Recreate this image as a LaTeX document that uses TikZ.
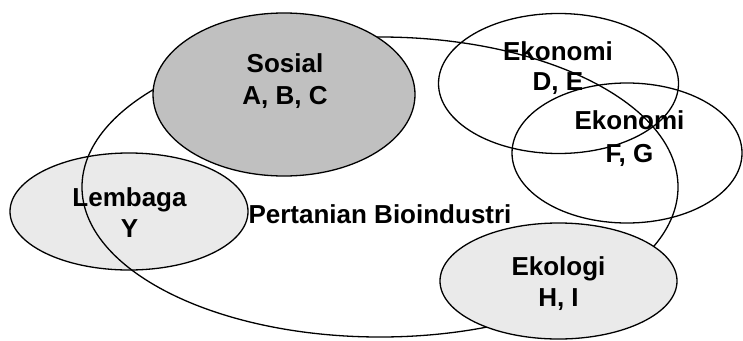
\documentclass[tikz,border=0pt]{standalone}
\usepackage{fontspec}
\setmainfont{Liberation Sans}
\usetikzlibrary{shapes.geometric}
\definecolor{darkfill}{HTML}{C0C0C0}
\definecolor{lightfill}{HTML}{EAEAEA}
\begin{document}
\begin{tikzpicture}[x=1pt,y=-1pt,
  blob/.style={ellipse, draw=black, line width=1.3pt, inner sep=0pt},
  lbl/.style={anchor=base, inner sep=0pt, font=\fontsize{26}{31}\selectfont\bfseries}]
\useasboundingbox (0,0) rectangle (743,340);
% ellipses (drawing order matters)
\node[blob, fill=lightfill, minimum width=238pt, minimum height=117pt] (lembaga) at (129,211.5) {};
\node[blob, minimum width=596pt, minimum height=300pt] (pertanian) at (380,187) {};
\node[blob, fill=darkfill, minimum width=262pt, minimum height=163pt] (sosial) at (284,94.5) {};
\node[blob, fill=lightfill, minimum width=237pt, minimum height=116pt] (ekologi) at (558.5,281) {};
\node[blob, minimum width=240pt, minimum height=140pt] (ekoDE) at (558.5,83.5) {};
\node[blob, minimum width=230pt, minimum height=140pt] (ekoFG) at (627,153) {};
% texts
\node[lbl] (tSos1) at (285,72) {Sosial};
\node[lbl] (tSos2) at (285,104) {A, B, C};
\node[lbl] (tDE1) at (558,60) {Ekonomi};
\node[lbl] (tDE2) at (558,90) {D, E};
\node[lbl] (tFG1) at (629.5,129) {Ekonomi};
\node[lbl] (tFG2) at (629.5,162) {F, G};
\node[lbl] (tLem1) at (129.5,206) {Lembaga};
\node[lbl] (tLem2) at (129.5,237) {Y};
\node[lbl] (tPer) at (380,223) {Pertanian Bioindustri};
\node[lbl] (tEko1) at (558.5,275) {Ekologi};
\node[lbl] (tEko2) at (558.5,306) {H, I};
\end{tikzpicture}
\end{document}
